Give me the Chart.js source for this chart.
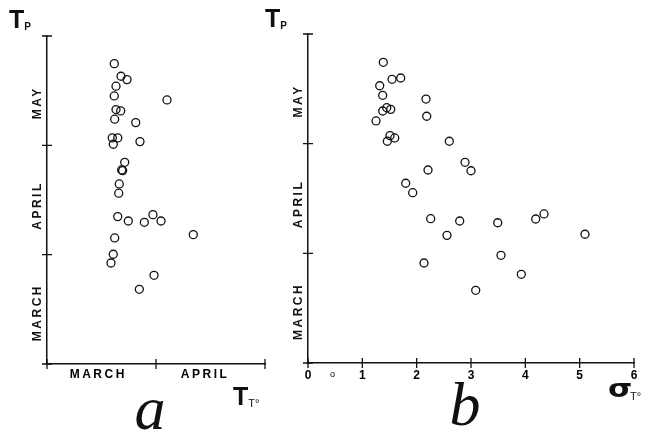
<!DOCTYPE html>
<html>
<head>
<meta charset="utf-8">
<script src="https://cdn.jsdelivr.net/npm/chart.js@4.4.1/dist/chart.umd.min.js"></script>
<style>
    body { margin: 0; background: #fff; }
    #wrap { position: relative; width: 648px; height: 433px; overflow: hidden; }
    #chart-a { position: absolute; left: 0; top: 0; }
    #chart-b { position: absolute; left: 250px; top: 0; }
</style>
</head>
<body>
<div id="wrap">
    <canvas id="chart-a" width="300" height="433"></canvas>
    <canvas id="chart-b" width="398" height="433"></canvas>
</div>
<script>
// month scale: 0 = start of March, 1 = start of April, 2 = start of May, 3 = start of June
const monthLabels = ["MARCH", "APRIL", "MAY"];
const monthLabelPosY = [0.47, 1.45, 2.39];
const monthLabelPosX = [0.47, 1.45];
const sigmaTicks = ["0", "1", "2", "3", "4", "5", "6"];

// panel a: time of T0 (x) vs time of peak Tp (y)
const ttA = [0.617, 0.679, 0.734, 0.633, 0.617, 1.101, 0.633, 0.676, 0.621, 0.814,
             0.599, 0.649, 0.608, 0.853, 0.713, 0.685, 0.694, 0.663, 0.658, 0.649,
             0.746, 0.893, 0.972, 1.046, 1.342, 0.621, 0.608, 0.587, 0.982, 0.847];
const tpA = [2.747, 2.632, 2.601, 2.541, 2.452, 2.415, 2.327, 2.315, 2.239, 2.208,
             2.068, 2.068, 2.010, 2.034, 1.845, 1.775, 1.769, 1.647, 1.562, 1.348,
             1.308, 1.296, 1.366, 1.308, 1.183, 1.153, 1.004, 0.924, 0.811, 0.683];

// panel b: sigma of T0 (x) vs time of peak Tp (y)
const sigmaB = [1.386, 1.546, 1.706, 1.320, 1.375, 2.172, 1.449, 1.522, 1.375, 2.185,
                1.252, 1.509, 1.596, 1.460, 2.601, 2.890, 2.209, 3.000, 1.798, 1.927,
                2.258, 2.792, 2.558, 3.492, 4.191, 4.344, 5.098, 2.135, 3.552, 3.926, 3.087];
const tpB = [2.742, 2.587, 2.599, 2.528, 2.441, 2.407, 2.328, 2.313, 2.298, 2.250,
             2.207, 2.073, 2.052, 2.022, 2.022, 1.830, 1.760, 1.753, 1.639, 1.553,
             1.316, 1.295, 1.164, 1.279, 1.313, 1.359, 1.174, 0.912, 0.982, 0.809, 0.663];

const INK = "#111";
const SANS = "'Liberation Sans', Arial, sans-serif";

function toPoints(xs, ys) {
    return xs.map((x, i) => ({ x: x, y: ys[i] }));
}

function drawCrossTicks(ctx, chart) {
    const xs = chart.scales.x;
    const ys = chart.scales.y;
    const area = chart.chartArea;
    ctx.strokeStyle = INK;
    ctx.lineWidth = 1.3;
    ctx.beginPath();
    for (const t of ys.ticks) {
        const py = ys.getPixelForValue(t.value);
        ctx.moveTo(area.left - 5, py);
        ctx.lineTo(area.left + 5, py);
    }
    for (const t of xs.ticks) {
        const px = xs.getPixelForValue(t.value);
        ctx.moveTo(px, area.bottom - 5);
        ctx.lineTo(px, area.bottom + 5);
    }
    ctx.stroke();
}

function drawMonthsY(ctx, chart) {
    const ys = chart.scales.y;
    const left = chart.chartArea.left;
    ctx.save();
    ctx.fillStyle = INK;
    ctx.font = "bold 12px " + SANS;
    ctx.letterSpacing = "2.5px";
    ctx.textAlign = "center";
    ctx.textBaseline = "middle";
    monthLabels.forEach((label, i) => {
        ctx.save();
        ctx.translate(left - 9, ys.getPixelForValue(monthLabelPosY[i]));
        ctx.rotate(-Math.PI / 2);
        ctx.fillText(label, 0, 0);
        ctx.restore();
    });
    ctx.restore();
}

function drawTitle(ctx, big, small, x, y, bigFont, smallFont, gap) {
    ctx.fillStyle = INK;
    ctx.textAlign = "left";
    ctx.textBaseline = "alphabetic";
    ctx.font = bigFont;
    ctx.fillText(big, x, y);
    const w = ctx.measureText(big).width;
    ctx.font = smallFont;
    ctx.fillText(small, x + w + gap, y + 2);
}

const decorA = {
    id: "decorA",
    afterDraw(chart) {
        const ctx = chart.ctx;
        const xs = chart.scales.x;
        const bottom = chart.chartArea.bottom;
        ctx.save();
        drawCrossTicks(ctx, chart);
        drawMonthsY(ctx, chart);

        ctx.font = "bold 12px " + SANS;
        ctx.letterSpacing = "2.5px";
        ctx.textAlign = "center";
        ctx.textBaseline = "middle";
        monthLabelPosX.forEach((v, i) => {
            ctx.fillText(monthLabels[i], xs.getPixelForValue(v), bottom + 11);
        });
        ctx.letterSpacing = "0px";

        drawTitle(ctx, "T", "P", 9, 28, "bold 25px " + SANS, "bold 10px " + SANS, 0);
        drawTitle(ctx, "T", "T°", 233, 405, "bold 25px " + SANS, "11px " + SANS, 0);

        ctx.font = "italic 62px 'Liberation Serif', 'DejaVu Serif', serif";
        ctx.textAlign = "center";
        ctx.textBaseline = "alphabetic";
        ctx.fillText("a", 150, 429);
        ctx.restore();
    },
};

const decorB = {
    id: "decorB",
    afterDraw(chart) {
        const ctx = chart.ctx;
        const xs = chart.scales.x;
        const bottom = chart.chartArea.bottom;
        ctx.save();
        drawCrossTicks(ctx, chart);
        drawMonthsY(ctx, chart);

        ctx.font = "bold 12px " + SANS;
        ctx.textAlign = "center";
        ctx.textBaseline = "middle";
        sigmaTicks.forEach((label, i) => {
            ctx.fillText(label, xs.getPixelForValue(i), bottom + 13);
        });
        ctx.font = "9px " + SANS;
        ctx.fillText("o", xs.getPixelForValue(0.45), bottom + 12);

        drawTitle(ctx, "T", "P", 15, 27, "bold 25px " + SANS, "bold 10px " + SANS, 0);

        // wide sigma with a long top bar, subscript T° under the bar
        ctx.save();
        ctx.translate(358, 397);
        ctx.scale(1.3, 1);
        ctx.font = "bold 24px 'DejaVu Sans', sans-serif";
        ctx.textAlign = "left";
        ctx.textBaseline = "alphabetic";
        ctx.fillText("σ", 0, 0);
        ctx.restore();
        ctx.font = "11px " + SANS;
        ctx.textAlign = "left";
        ctx.fillText("T°", 380, 400);

        ctx.font = "italic 62px 'Liberation Serif', 'DejaVu Serif', serif";
        ctx.textAlign = "center";
        ctx.textBaseline = "alphabetic";
        ctx.fillText("b", 215, 425);
        ctx.restore();
    },
};

function axisOptions(max) {
    return {
        type: "linear",
        min: 0,
        max: max,
        ticks: { display: false, stepSize: 1 },
        grid: { display: false, drawTicks: false },
        border: { display: true, color: INK, width: 1.5 },
        afterFit(scale) {
            if (scale.isHorizontal()) {
                scale.height = 0;
            } else {
                scale.width = 0;
            }
        },
    };
}

function makeChart(canvasId, points, xMax, padding, decor) {
    return new Chart(document.getElementById(canvasId), {
        type: "scatter",
        data: {
            datasets: [
                {
                    data: points,
                    pointRadius: 4,
                    pointHoverRadius: 4,
                    pointBorderWidth: 1.3,
                    borderColor: INK,
                    backgroundColor: "rgba(0,0,0,0)",
                },
            ],
        },
        options: {
            responsive: false,
            animation: false,
            layout: { padding: padding },
            plugins: { legend: { display: false }, tooltip: { enabled: false } },
            scales: {
                x: axisOptions(xMax),
                y: axisOptions(3),
            },
        },
        plugins: [decor],
    });
}

makeChart("chart-a", toPoints(ttA, tpA), 2, { left: 47, right: 35, top: 36, bottom: 69 }, decorA);
makeChart("chart-b", toPoints(sigmaB, tpB), 6, { left: 58, right: 14, top: 34, bottom: 70 }, decorB);
</script>
</body>
</html>
